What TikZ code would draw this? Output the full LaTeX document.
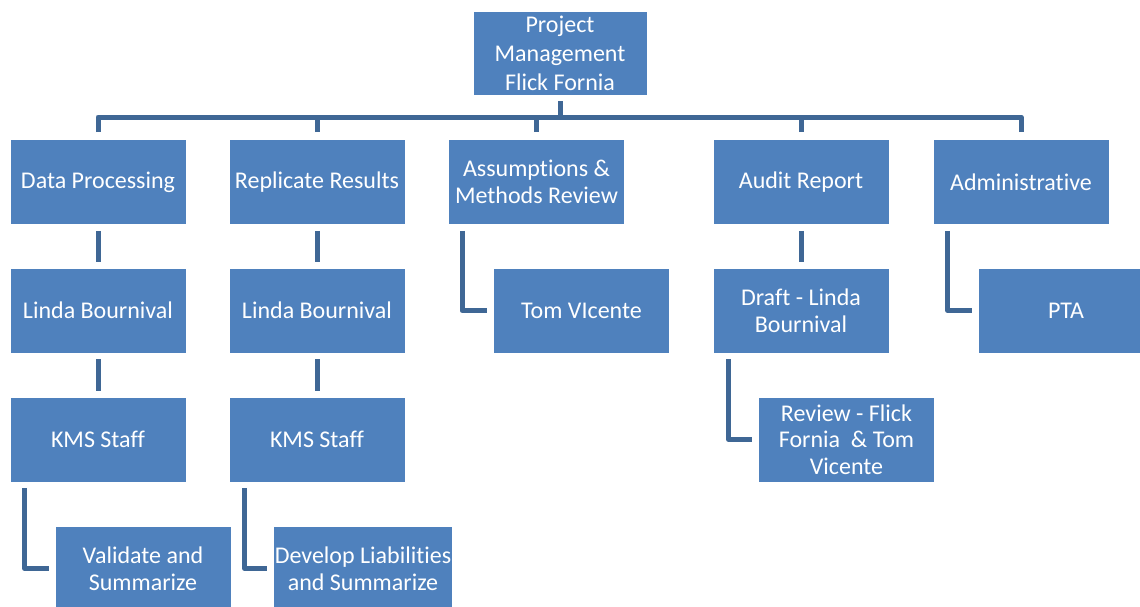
\documentclass[tikz,border=0pt]{standalone}
\usepackage{fontspec}
\setmainfont{Carlito}[Ligatures=NoCommon]
\usepackage{xcolor}
\usetikzlibrary{positioning}
\definecolor{boxblue}{HTML}{4F81BD}
\definecolor{linkblue}{HTML}{3F6795}

\begin{document}
\begin{tikzpicture}[x=0.75pt, y=-0.75pt,
    box/.style={rectangle, draw=white, line width=0.6pt, fill=boxblue, text=white,
      align=center, minimum width=132pt, minimum height=63.75pt, inner sep=1pt,
      font=\fontsize{18}{20}\selectfont},
    link/.style={draw=linkblue, line width=3.75pt, line join=round}]
  \useasboundingbox (0,0) rectangle (1140,607);

  % Nodes
  \node[box, minimum width=130.5pt, minimum height=63pt, font=\fontsize{18}{21.75}\selectfont]
    (pm) at (560,53) {Project\\Management\\Flick Fornia}; % Top
  \node[box] (dp)  at (98,182)    {Data Processing};
  \node[box] (rr)  at (317,182)   {Replicate Results};
  \node[box] (amr) at (536.5,182) {Assumptions \&\\Methods Review};
  \node[box] (ar)  at (801,182)   {Audit Report};
  \node[box] (adm) at (1021,182)  {Administrative};

  \node[box] (lb1) at (98,310.5)   {Linda Bournival};
  \node[box] (lb2) at (317,310.5)  {Linda Bournival};
  \node[box] (tv)  at (581.5,310.5) {Tom VIcente};
  \node[box] (dr)  at (801,310.5)  {Draft - Linda\\Bournival};
  \node[box] (pta) at (1066,310.5) {PTA}; % runs off the right edge

  \node[box] (kms1) at (98,439.5)    {KMS Staff};
  \node[box] (kms2) at (317,439.5)   {KMS Staff};
  \node[box] (rev)  at (846.5,439.5) {Review - Flick\\Fornia \ \& Tom\\Vicente};

  \node[box] (val) at (143,568.5) {Validate and\\Summarize};
  \node[box] (dev) at (363,568.5) {Develop Liabilities\\and Summarize};

  % Edges
  \coordinate (bus) at (560,117);
  \draw[link] ([yshift=-4.5pt]pm.south) -- (bus);
  \foreach \c in {dp,rr,amr,ar,adm}
    \draw[link] ([yshift=5.25pt]\c.north) -- (\c.north |- bus) -- (bus);

  \draw[link, shorten >=4.5pt, shorten <=4.5pt] (dp.south) -- (lb1.north);
  \draw[link, shorten >=4.5pt, shorten <=4.5pt] (lb1.south) -- (kms1.north);
  \draw[link, shorten >=4.5pt, shorten <=4.5pt] (rr.south) -- (lb2.north);
  \draw[link, shorten >=4.5pt, shorten <=4.5pt] (lb2.south) -- (kms2.north);
  \draw[link, shorten >=4.5pt, shorten <=4.5pt] (ar.south) -- (dr.north);

  \draw[link] ([xshift=11.25pt,yshift=-4.5pt]kms1.south west) |- ([xshift=-4.5pt]val.west);
  \draw[link] ([xshift=12pt,yshift=-4.5pt]kms2.south west) |- ([xshift=-4.5pt]dev.west);
  \draw[link] ([xshift=10.5pt,yshift=-4.5pt]amr.south west) |- ([xshift=-4.5pt]tv.west);
  \draw[link] ([xshift=12pt,yshift=-4.5pt]dr.south west) |- ([xshift=-4.5pt]rev.west);
  \draw[link] ([xshift=11.25pt,yshift=-4.5pt]adm.south west) |- ([xshift=-4.5pt]pta.west);
\end{tikzpicture}
\end{document}
